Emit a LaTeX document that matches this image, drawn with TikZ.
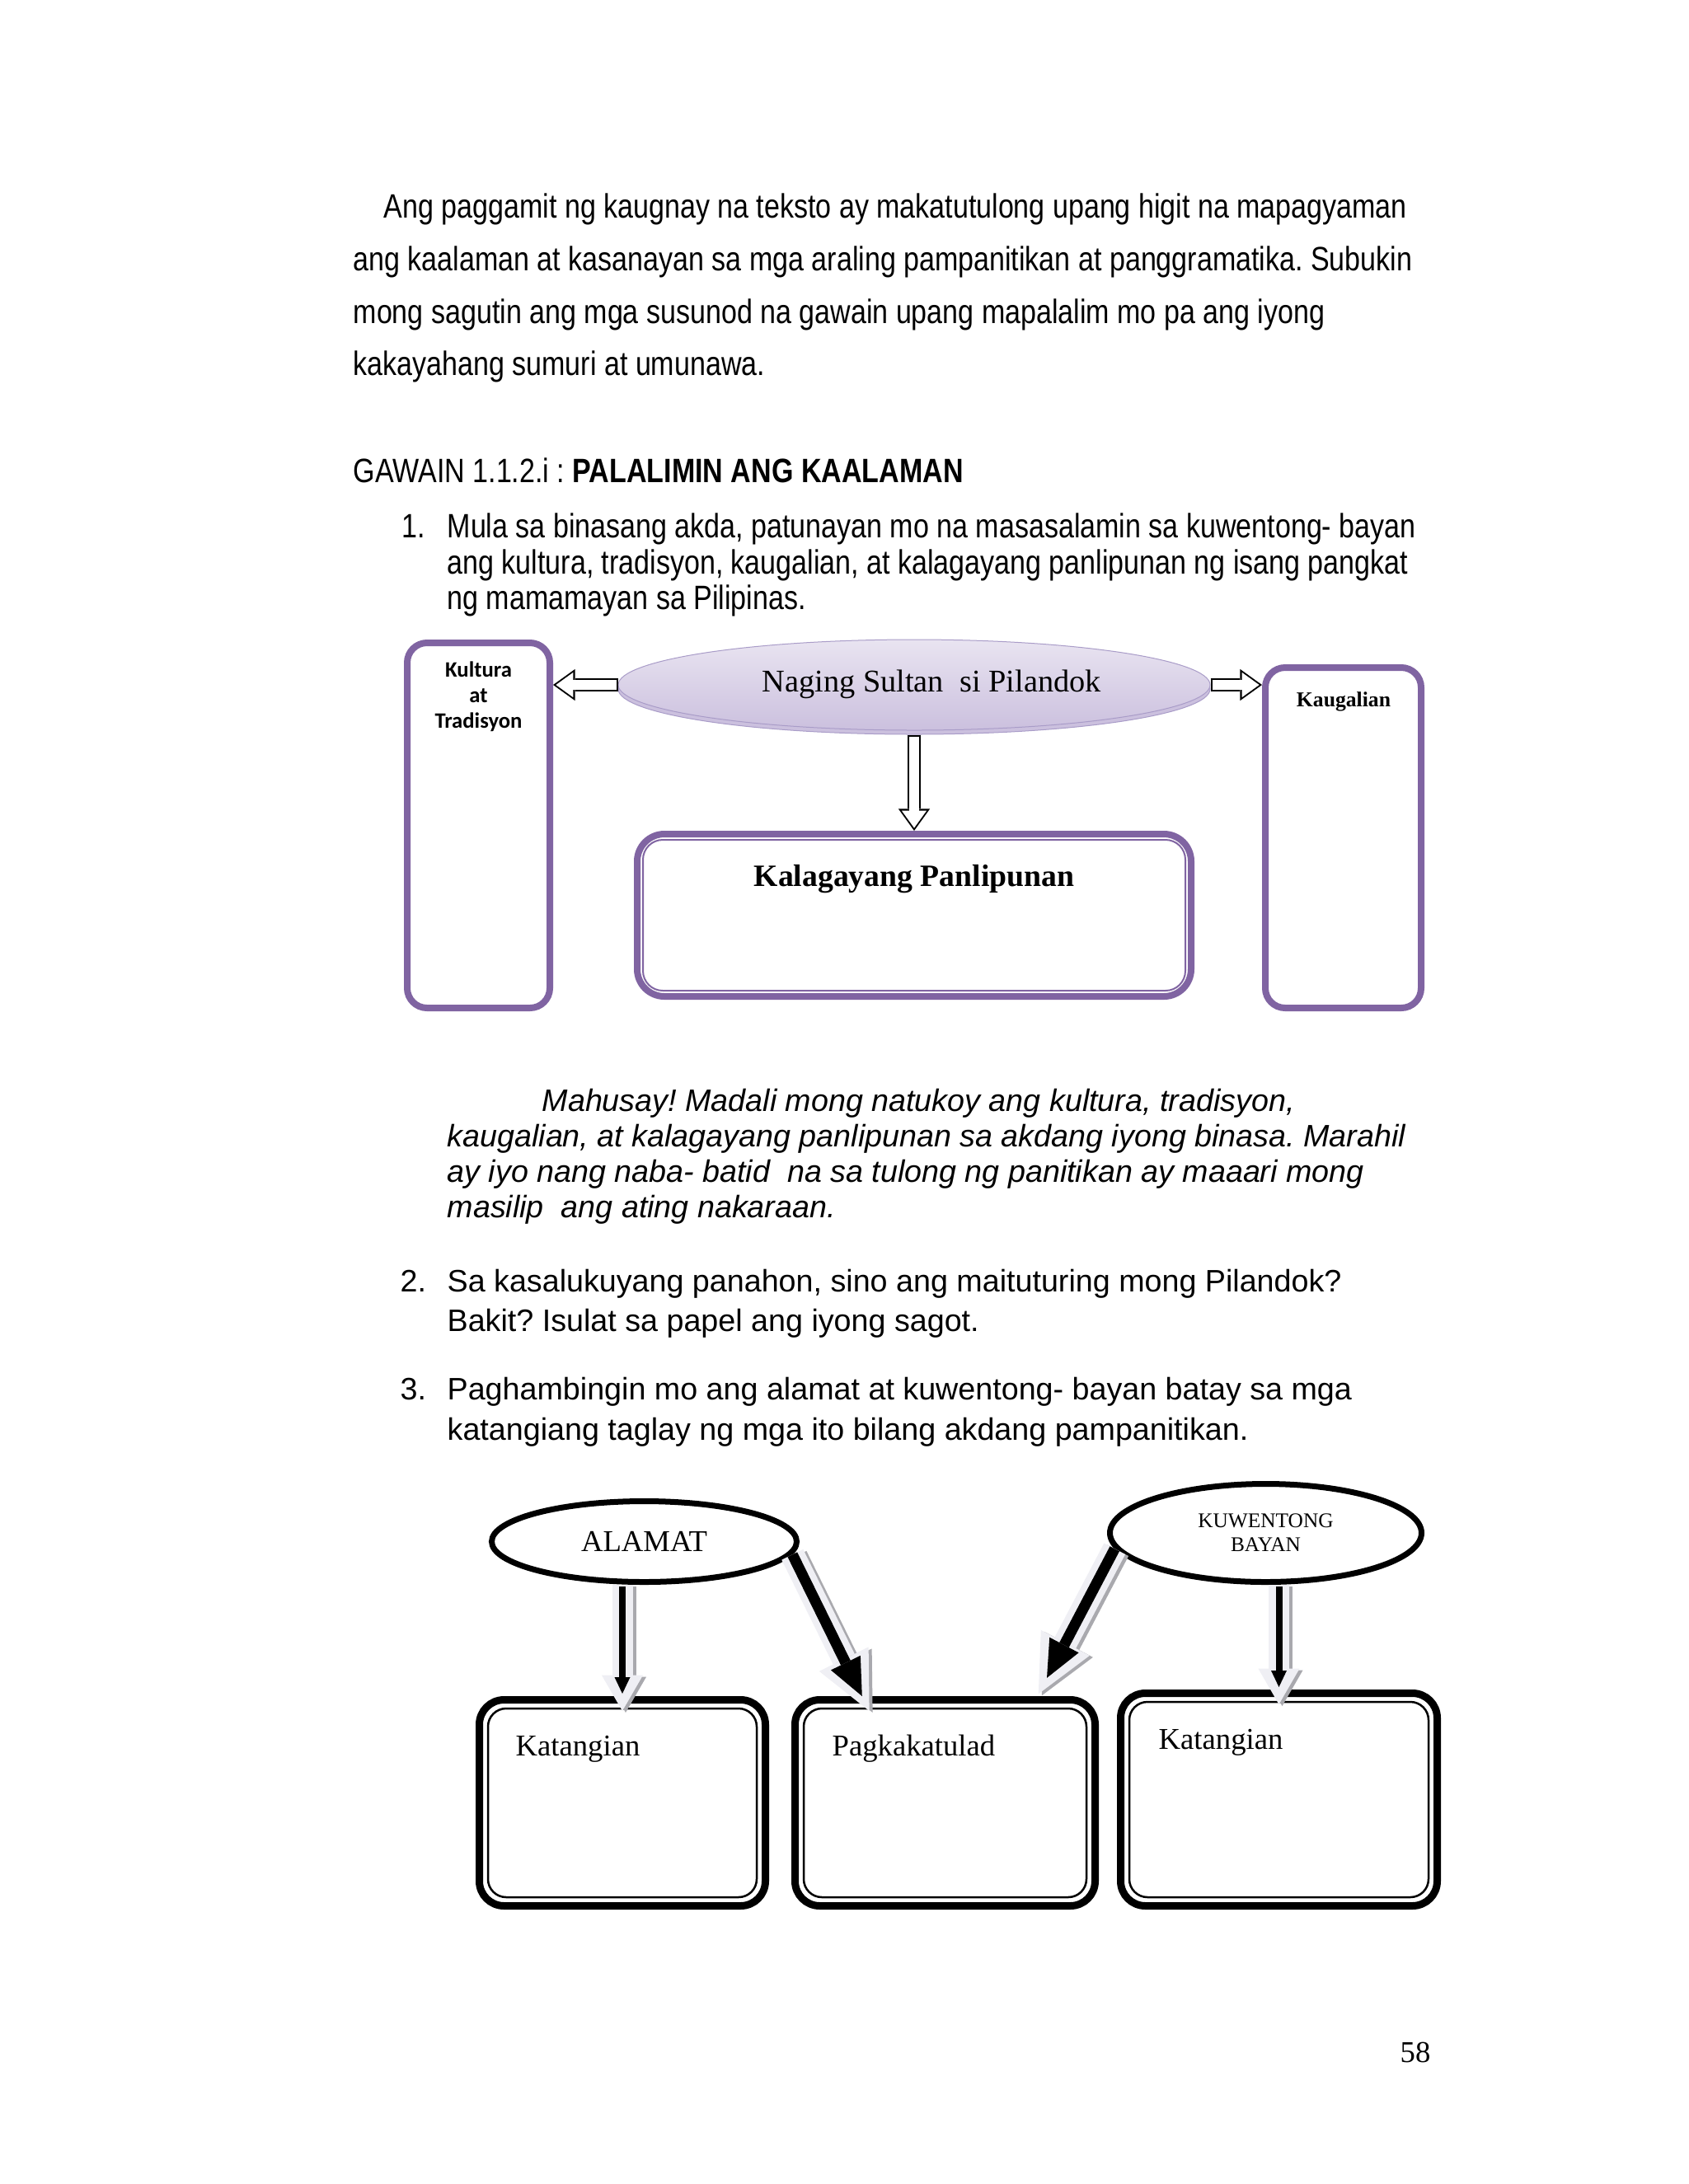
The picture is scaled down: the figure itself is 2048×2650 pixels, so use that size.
\documentclass[tikz,border=0pt]{standalone}
\usepackage{fontspec}
\setmainfont{Liberation Serif}
\newfontfamily\narrowfont[FakeStretch=0.83]{Liberation Sans}
\newfontfamily\arialfont{Liberation Sans}
\newfontfamily\calibrifont{Carlito}
\usetikzlibrary{shapes.geometric,arrows.meta,calc}
\frenchspacing

\newlength{\px}
\setlength{\px}{0.298828bp}

\definecolor{plum}{HTML}{8064A2}
\definecolor{lilac}{HTML}{E9E4F1}
\definecolor{lilacdark}{HTML}{CBC0DE}
\definecolor{lilacedge}{HTML}{A99CC8}
\definecolor{halo}{HTML}{EFEFF4}
\definecolor{haloshade}{HTML}{A9A9AE}

\tikzset{
  para/.style={anchor=base west, inner sep=0pt, font=\narrowfont\fontsize{12.3}{14}\selectfont},
  body/.style={anchor=base west, inner sep=0pt, font=\arialfont\fontsize{11.3}{13}\selectfont},
  purplebox/.style={draw=plum, line width=8\px, rounded corners=24\px},
  blackbox/.style={draw, line width=9\px, rounded corners=30\px},
  ovalnode/.style={ellipse, draw, line width=7\px, fill=white, inner sep=0pt},
  boxtitle/.style={anchor=base west, inner sep=0pt, font=\fontsize{11}{13}\selectfont},
  hollowout/.style={line width=16\px, -{Triangle[length=8pt,width=11.5pt,line width=0pt]}},
  hollowin/.style={color=white, line width=12\px, shorten <=2\px, shorten >=1.03pt, -{Triangle[length=6.3pt,width=9.1pt,line width=0pt]}},
  thinarrow/.style={line width=8\px, shorten >=3\px, -{Triangle[length=6pt,width=5.7pt,line width=0pt]}},
  thinhalo/.style={color=halo, line width=25\px, shorten >=-18\px, -{Triangle[length=13pt,width=15pt,line width=0pt]}},
  widearrow/.style={line width=13\px, -{Triangle[length=13.5pt,width=12pt,line width=0pt]}},
  widehalo/.style={color=halo, line width=29\px, -{Triangle[length=21pt,width=20pt,line width=0pt]}},
}

\begin{document}
\begin{tikzpicture}[x=0.298828bp, y=-0.298828bp]
\fill[white] (0,0) rectangle (2048,2650);
\useasboundingbox (0,0) rectangle (2048,2650);

% Text
\node[para] (p1) at (465,264) {Ang paggamit ng kaugnay na teksto ay makatutulong upang higit na mapagyaman};
\node[para] (p2) at (428,328) {ang kaalaman at kasanayan sa mga araling pampanitikan at panggramatika. Subukin};
\node[para] (p3) at (428,392) {mong sagutin ang mga susunod na gawain upang mapalalim mo pa ang iyong};
\node[para] (p4) at (428,455) {kakayahang sumuri at umunawa.};
\node[para] (gawain) at (428,585) {GAWAIN 1.1.2.i : \textbf{PALALIMIN ANG KAALAMAN}};
\node[para] (n1) at (487,652) {1.};
\node[para] (i1a) at (542,652) {Mula sa binasang akda, patunayan mo na masasalamin sa kuwentong- bayan};
\node[para] (i1b) at (542,696) {ang kultura, tradisyon, kaugalian, at kalagayang panlipunan ng isang pangkat};
\node[para] (i1c) at (542,739) {ng mamamayan sa Pilipinas.};

% First chart: boxes
\node[purplebox, minimum width=173\px, minimum height=443\px] (kultura) at (580.5,1001.5) {};
\node[purplebox, minimum width=189\px, minimum height=413\px] (kaugalian) at (1629.5,1016.5) {};
\node[purplebox, rounded corners=33\px, minimum width=672\px, minimum height=197\px] (panlipunan) at (1109,1110.5) {};
\draw[draw=plum, line width=2\px, rounded corners=24\px] ([shift={(11,11)}]panlipunan.north west) rectangle ([shift={(-11,-11)}]panlipunan.south east);
\node[ellipse, fill=lilacdark, draw=lilacedge, line width=1\px, minimum width=718\px, minimum height=110\px] (sultanrim) at (1109,836) {};
\node[ellipse, top color=lilac, bottom color=lilacdark, draw=lilacedge, line width=1\px, minimum width=718\px, minimum height=110\px] (sultan) at (1109,831) {};

% First chart: labels
\node[anchor=base west, inner sep=0pt, font=\fontsize{11.5}{13}\selectfont] (sultantxt) at (924,839) {Naging Sultan\ \ si Pilandok};
\node[anchor=north, align=center, inner sep=0pt, font=\calibrifont\bfseries\fontsize{8}{9.3}\selectfont] (kulturatxt) at (580.5,802) {Kultura\\at\\Tradisyon};
\node[anchor=base, inner sep=0pt, font=\bfseries\fontsize{7.7}{9}\selectfont] (kaugaliantxt) at (1630,857) {Kaugalian};
\node[anchor=base, inner sep=0pt, font=\bfseries\fontsize{11.3}{13}\selectfont] (panlipunantxt) at (1109,1075) {Kalagayang Panlipunan};

% First chart: arrows
\draw[hollowout] (sultan.west) -- (sultan.west -| kultura.east);
\draw[hollowin] (sultan.west) -- (sultan.west -| kultura.east);
\draw[hollowout] (sultan.east) -- (sultan.east -| kaugalian.west);
\draw[hollowin] (sultan.east) -- (sultan.east -| kaugalian.west);
\draw[hollowout] (sultanrim.south) -- (panlipunan.north);
\draw[hollowin] (sultanrim.south) -- (panlipunan.north);

% Text
\node[body, font=\arialfont\itshape\fontsize{11.3}{13}\selectfont] (m1) at (657,1348) {Mahusay! Madali mong natukoy ang kultura, tradisyon,};
\node[body, font=\arialfont\itshape\fontsize{11.3}{13}\selectfont] (m2) at (542,1391) {kaugalian, at kalagayang panlipunan sa akdang iyong binasa. Marahil};
\node[body, font=\arialfont\itshape\fontsize{11.3}{13}\selectfont] (m3) at (542,1434) {ay iyo nang naba- batid\ \ na sa tulong ng panitikan ay maaari mong};
\node[body, font=\arialfont\itshape\fontsize{11.3}{13}\selectfont] (m4) at (542,1477) {masilip\ \ ang ating nakaraan.};
\node[body] (n2) at (485,1567) {2.};
\node[body] (i2a) at (542,1567) {Sa kasalukuyang panahon, sino ang maituturing mong Pilandok?};
\node[body] (i2b) at (542,1615) {Bakit? Isulat sa papel ang iyong sagot.};
\node[body] (n3) at (485,1698) {3.};
\node[body] (i3a) at (542,1698) {Paghambingin mo ang alamat at kuwentong- bayan batay sa mga};
\node[body] (i3b) at (542,1747) {katangiang taglay ng mga ito bilang akdang pampanitikan.};

% Second chart: ovals and boxes
\node[ovalnode, minimum width=370\px, minimum height=98\px, font=\fontsize{11}{13}\selectfont] (alamat) at (781.5,1870.5) {ALAMAT};
\node[ovalnode, minimum width=378\px, minimum height=119\px, align=center, font=\fontsize{7.6}{8.7}\selectfont] (kuwento) at (1535.5,1860) {KUWENTONG\\BAYAN};
\node[blackbox, minimum width=347\px, minimum height=250\px] (kat1) at (755,2187.5) {};
\node[blackbox, minimum width=364\px, minimum height=250\px] (pagka) at (1146.5,2187.5) {};
\node[blackbox, minimum width=384\px, minimum height=258\px] (kat2) at (1551.5,2183.5) {};
\foreach \b in {kat1,pagka,kat2}
  \draw[line width=2.5\px, rounded corners=22\px] ([shift={(15,15)}]\b.north west) rectangle ([shift={(-15,-15)}]\b.south east);
\node[boxtitle] (kat1txt) at ([shift={(48,72)}]kat1.north west) {Katangian};
\node[boxtitle] (pagkatxt) at ([shift={(49,72)}]pagka.north west) {Pagkakatulad};
\node[boxtitle] (kat2txt) at ([shift={(50,72)}]kat2.north west) {Katangian};

% Second chart: arrows
\coordinate (aS) at (alamat.south -| kat1.north);
\coordinate (aE) at (kat1.north);
\coordinate (bS) at (alamat.-5);
\coordinate (bE) at ($(pagka.north west)!0.23!(pagka.north east)$);
\coordinate (cS) at (kuwento.186);
\coordinate (cE) at ($(pagka.north west)!0.80!(pagka.north east)$);
\coordinate (dS) at (kuwento.south -| kat2.north);
\coordinate (dE) at (kat2.north);

\draw[thinhalo, color=haloshade] ([shift={(4,2)}]aS) -- ([shift={(4,2)}]aE);
\draw[thinhalo, color=haloshade] ([shift={(4,2)}]dS) -- ([shift={(4,2)}]dE);
\draw[widehalo, color=haloshade, shorten >=-20\px] ([shift={(4,2)}]bS) -- ([shift={(4,2)}]bE);
\draw[widehalo, color=haloshade, shorten >=3\px] ([shift={(4,2)}]cS) -- ([shift={(4,2)}]cE);
\draw[thinhalo] (aS) -- (aE);
\draw[thinhalo] (dS) -- (dE);
\draw[widehalo, shorten >=-20\px] (bS) -- (bE);
\draw[widehalo, shorten >=3\px] (cS) -- (cE);
\draw[thinarrow, shorten <=2\px] (aS) -- (aE);
\draw[thinarrow, shorten <=2\px] (dS) -- (dE);
\draw[widearrow] (bS) -- (bE);
\draw[widearrow, shorten >=25\px] (cS) -- (cE);

% Page number
\node[anchor=base west, inner sep=0pt, font=\fontsize{11}{13}\selectfont] (pageno) at (1698,2502) {58};

\end{tikzpicture}
\end{document}
